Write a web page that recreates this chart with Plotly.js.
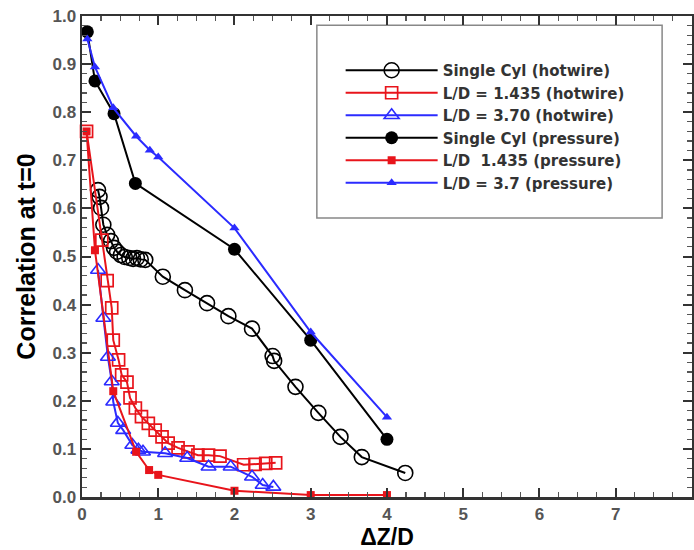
<!DOCTYPE html>
<html>
<head>
<meta charset="utf-8">
<script src="https://cdn.plot.ly/plotly-3.0.1.min.js"></script>
<style>
  html, body { margin: 0; padding: 0; background: #fff; }
  #chart { width: 694px; height: 550px; }
</style>
</head>
<body>
<div id="chart"></div>
<script>
// Spanwise correlation at zero time delay vs. separation ΔZ/D

const seriesNames = [
  'Single Cyl (hotwire)',
  'L/D = 1.435 (hotwire)',
  'L/D = 3.70 (hotwire)',
  'Single Cyl (pressure)',
  'L/D  1.435 (pressure)',
  'L/D = 3.7 (pressure)'
];

// hotwire measurements
const singleHotX = [0.21, 0.23, 0.25, 0.28, 0.33, 0.38, 0.42, 0.46, 0.51, 0.56, 0.62, 0.67, 0.72, 0.77, 0.83, 1.06, 1.35, 1.64, 1.92, 2.23, 2.5, 2.52, 2.8, 3.1, 3.39, 3.67, 4.24];
const singleHotY = [0.638, 0.624, 0.601, 0.566, 0.545, 0.532, 0.518, 0.510, 0.503, 0.499, 0.497, 0.495, 0.497, 0.494, 0.493, 0.458, 0.430, 0.403, 0.376, 0.350, 0.293, 0.283, 0.229, 0.175, 0.125, 0.083, 0.050];

const ld1435HotX = [0.06, 0.26, 0.33, 0.39, 0.41, 0.48, 0.52, 0.59, 0.63, 0.70, 0.78, 0.87, 0.96, 1.05, 1.13, 1.26, 1.39, 1.52, 1.66, 1.81, 2.12, 2.27, 2.41, 2.54];
const ld1435HotY = [0.760, 0.534, 0.450, 0.393, 0.326, 0.285, 0.254, 0.239, 0.206, 0.185, 0.167, 0.153, 0.139, 0.125, 0.112, 0.102, 0.094, 0.087, 0.087, 0.085, 0.067, 0.068, 0.070, 0.071];

const ld370HotX = [0.21, 0.28, 0.34, 0.39, 0.41, 0.47, 0.54, 0.66, 0.74, 0.80, 1.09, 1.38, 1.66, 1.95, 2.23, 2.37, 2.51];
const ld370HotY = [0.472, 0.372, 0.291, 0.240, 0.198, 0.154, 0.139, 0.108, 0.098, 0.094, 0.091, 0.081, 0.063, 0.063, 0.042, 0.025, 0.021];

// surface pressure measurements
const singlePresX = [0.07, 0.17, 0.42, 0.70, 2.0, 3.0, 4.0];
const singlePresY = [0.967, 0.865, 0.797, 0.652, 0.515, 0.326, 0.120];

const ld1435PresX = [0.06, 0.17, 0.41, 0.71, 0.88, 1.0, 2.0, 3.0, 4.0];
const ld1435PresY = [0.760, 0.513, 0.220, 0.094, 0.056, 0.046, 0.013, 0.004, 0.004];

const ld37PresX = [0.07, 0.17, 0.41, 0.71, 0.89, 1.0, 2.0, 3.0, 4.0];
const ld37PresY = [0.952, 0.894, 0.809, 0.750, 0.721, 0.707, 0.559, 0.343, 0.166];

const xTickVals = [0, 1, 2, 3, 4, 5, 6, 7, 8];
const yTickVals = [0, 0.1, 0.2, 0.3, 0.4, 0.5, 0.6, 0.7, 0.8, 0.9, 1.0];
const yTickText = ['0.0', '0.1', '0.2', '0.3', '0.4', '0.5', '0.6', '0.7', '0.8', '0.9', '1.0'];

const BLACK = '#000000';
const RED = '#e8141b';
const BLUE = '#2b2bff';

function series(name, x, y, color, symbol, size, lineW) {
  return {
    type: 'scatter', mode: 'lines+markers', name: name, x: x, y: y,
    cliponaxis: false,
    line: { color: color, width: 2 },
    marker: { symbol: symbol, size: size, color: color,
              line: { color: color, width: lineW } }
  };
}

const traces = [
  series(seriesNames[0], singleHotX, singleHotY, BLACK, 'circle-open', 15, 1.6),
  series(seriesNames[1], ld1435HotX, ld1435HotY, RED, 'square-open', 12, 1.7),
  series(seriesNames[2], ld370HotX, ld370HotY, BLUE, 'triangle-up-open', 13, 1.6),
  series(seriesNames[3], singlePresX, singlePresY, BLACK, 'circle', 13, 0),
  series(seriesNames[4], ld1435PresX, ld1435PresY, RED, 'square', 8, 0),
  series(seriesNames[5], ld37PresX, ld37PresY, BLUE, 'triangle-up', 9, 0)
];

const FONT = 'Liberation Sans, Arial, sans-serif';

const axisCommon = {
  showgrid: false, zeroline: false,
  showline: true, linecolor: '#333', linewidth: 2.5,
  mirror: 'allticks',
  ticks: 'inside', ticklen: 9, tickwidth: 2, tickcolor: '#333',
  tickfont: { family: FONT, size: 17, color: '#555', weight: 'bold' }
};

const layout = {
  width: 694, height: 550,
  margin: { l: 82, r: 2, t: 16, b: 53 },
  paper_bgcolor: '#fff', plot_bgcolor: '#fff',
  showlegend: true,
  xaxis: Object.assign({}, axisCommon, {
    range: [0, 8.001], tickvals: xTickVals,
    minor: { dtick: 0.25, ticks: 'inside', ticklen: 5, tickwidth: 1.2, tickcolor: '#555' },
    title: { text: 'ΔZ/D', standoff: 8,
             font: { family: FONT, size: 23, color: '#000', weight: 'bold' } }
  }),
  yaxis: Object.assign({}, axisCommon, {
    range: [0, 1], tickvals: yTickVals, ticktext: yTickText,
    minor: { dtick: 0.02, ticks: 'inside', ticklen: 5, tickwidth: 1.2, tickcolor: '#555' },
    title: { text: 'Correlation at t=0', standoff: 10,
             font: { family: FONT, size: 25, color: '#000', weight: 'bold' } }
  }),
  legend: {
    x: 0.424, y: 0.921, xanchor: 'left', yanchor: 'top',
    bgcolor: 'rgba(0,0,0,0)', borderwidth: 0,
    itemwidth: 92,
    font: { family: 'DejaVu Sans, sans-serif', size: 15, color: '#333', weight: 'bold' }
  },
  shapes: [{
    type: 'rect', xref: 'paper', yref: 'paper',
    x0: 0.385, x1: 0.951, y0: 0.58, y1: 0.981,
    line: { color: '#888', width: 1.5 }, fillcolor: '#fff', layer: 'below'
  }]
};

Plotly.newPlot('chart', traces, layout, { displayModeBar: false, staticPlot: true });
</script>
</body>
</html>
